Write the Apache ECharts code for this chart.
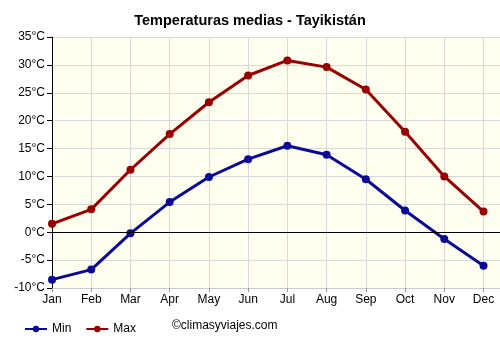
<!DOCTYPE html>
<html>
<head>
<meta charset="utf-8">
<script src="https://cdn.jsdelivr.net/npm/echarts@6/dist/echarts.min.js"></script>
<style>
  body { margin: 0; background: #fff; }
  #chart { width: 500px; height: 350px; }
</style>
</head>
<body>
<div id="chart"></div>
<script>
const months = ["Jan", "Feb", "Mar", "Apr", "May", "Jun", "Jul", "Aug", "Sep", "Oct", "Nov", "Dec"];
const minTemps = [-8.5, -6.7, -0.2, 5.4, 9.9, 13.1, 15.5, 13.9, 9.5, 3.9, -1.2, -6.0];
const maxTemps = [1.5, 4.1, 11.2, 17.6, 23.3, 28.1, 30.8, 29.6, 25.6, 18.0, 10.0, 3.7];

const FONT = "Liberation Sans, Arial, sans-serif";

const chart = echarts.init(document.getElementById("chart"));

const toPoints = (vals) => vals.map((v, i) => [i, v]);

const option = {
  animation: false,
  title: {
    text: "Temperaturas medias - Tayikistán",
    left: "center",
    top: 8,
    textStyle: { fontFamily: FONT, fontSize: 14.5, fontWeight: "bold", color: "#000" },
  },
  legend: {
    left: 19,
    top: 318,
    itemWidth: 22,
    itemHeight: 8,
    itemGap: 14,
    textStyle: { fontFamily: FONT, fontSize: 12, color: "#000" },
    data: ["Min", "Max"],
  },
  graphic: [
    {
      type: "text",
      left: 172,
      top: 320,
      style: { text: "©climasyviajes.com", font: "12px " + FONT, fill: "#000" },
    },
  ],
  grid: { left: 52, right: 0, top: 37, bottom: 62, backgroundColor: "#fffff0", show: true, borderWidth: 0 },
  xAxis: {
    type: "value",
    min: 0,
    max: 11.42,
    interval: 1,
    axisLine: { show: true, onZero: false, lineStyle: { color: "#ccc" } },
    axisTick: { show: true, length: 4, lineStyle: { color: "#999" } },
    axisLabel: {
      fontFamily: FONT,
      fontSize: 12,
      color: "#000",
      margin: 6,
      showMaxLabel: false,
      formatter: (v) => (Number.isInteger(v) && months[v] ? months[v] : ""),
    },
    splitLine: { show: true, lineStyle: { color: "#d8d8d8", width: 1 } },
  },
  yAxis: {
    type: "value",
    min: -10,
    max: 35,
    interval: 5,
    axisLine: { show: true, lineStyle: { color: "#000" } },
    axisTick: { show: true, length: 5, lineStyle: { color: "#000" } },
    axisLabel: {
      fontFamily: FONT,
      fontSize: 12,
      color: "#000",
      margin: 7,
      formatter: (v) => v + "°C",
    },
    splitLine: { show: true, lineStyle: { color: "#d8d8d8", width: 1 } },
  },
  series: [
    {
      name: "Min",
      type: "line",
      data: toPoints(minTemps),
      symbol: "circle",
      symbolSize: 8,
      itemStyle: { color: "#0a0a96" },
      lineStyle: { width: 3, color: "#0a0a96" },
      z: 3,
      markLine: {
        silent: true,
        symbol: "none",
        label: { show: false },
        lineStyle: { color: "#000", width: 1, type: "solid" },
        data: [{ yAxis: 0 }],
      },
    },
    {
      name: "Max",
      type: "line",
      data: toPoints(maxTemps),
      symbol: "circle",
      symbolSize: 8,
      itemStyle: { color: "#990000" },
      lineStyle: { width: 3, color: "#990000" },
      z: 3,
    },
  ],
};

chart.setOption(option);
</script>
</body>
</html>
